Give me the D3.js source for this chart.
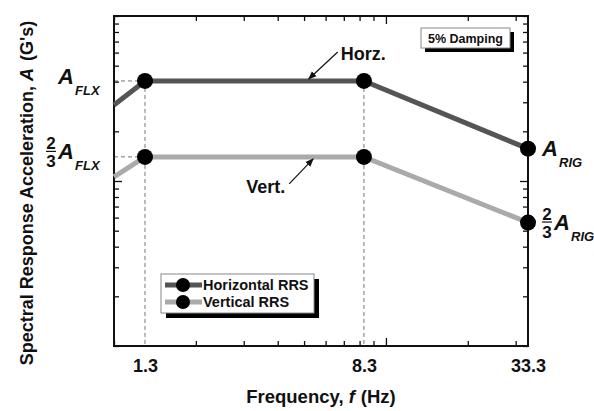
<!DOCTYPE html>
<html>
<head>
<meta charset="utf-8">
<script src="https://cdn.jsdelivr.net/npm/d3@7"></script>
<style>
  body { margin: 0; background: #fff; }
  text { font-family: "Liberation Sans", Arial, sans-serif; font-weight: bold; fill: #111; }
</style>
</head>
<body>
<div id="chart"></div>
<script>
// Data
const freq = [1, 1.3, 8.3, 33.3];
const horz = [28.9, 40.4, 40.4, 15.7];
const vert = [10.6, 14, 14, 5.6];
const xLabels = [1.3, 8.3, 33.3];
const seriesNames = ["Horizontal RRS", "Vertical RRS"];

const W = 594, H = 411;
const plot = { left: 114, right: 528, top: 16, bottom: 346 };

const x = d3.scaleLog().domain([1, 33.3]).range([plot.left, plot.right]);
const y = d3.scaleLog().domain([1, 100]).range([plot.bottom, plot.top]);

const svg = d3.select("#chart").append("svg")
  .attr("width", W).attr("height", H);

const defs = svg.append("defs");
defs.append("marker")
  .attr("id", "arrow")
  .attr("viewBox", "0 0 10 10")
  .attr("refX", 9).attr("refY", 5)
  .attr("markerWidth", 7).attr("markerHeight", 7)
  .attr("orient", "auto")
  .append("path").attr("d", "M0,1L10,5L0,9Z").attr("fill", "#111");

// Dashed guide lines
const guide = svg.append("g")
  .attr("stroke", "#777").attr("stroke-width", 1).attr("stroke-dasharray", "4,3");
[horz[1], vert[1]].forEach(v => {
  guide.append("line")
    .attr("x1", x(freq[0])).attr("x2", x(freq[1]))
    .attr("y1", y(v)).attr("y2", y(v));
});
[freq[1], freq[2]].forEach(f => {
  guide.append("line")
    .attr("x1", x(f)).attr("x2", x(f))
    .attr("y1", y(horz[1])).attr("y2", plot.bottom);
});

// Axes with inward ticks
function styleTicks(g) {
  g.select(".domain").remove();
  g.selectAll(".tick text").remove();
  g.selectAll(".tick line")
    .attr("stroke", "#111").attr("stroke-width", 1.3);
}
svg.append("g")
  .attr("transform", `translate(0,${plot.bottom})`)
  .call(d3.axisBottom(x).ticks(10).tickSize(-5))
  .call(styleTicks)
  .selectAll(".tick line").attr("y2", d => d === 10 ? -8 : -5);
svg.append("g")
  .attr("transform", `translate(0,${plot.top})`)
  .call(d3.axisTop(x).ticks(10).tickSize(-5))
  .call(styleTicks)
  .selectAll(".tick line").attr("y2", d => d === 10 ? 8 : 5);
svg.append("g")
  .attr("transform", `translate(${plot.left},0)`)
  .call(d3.axisLeft(y).ticks(10).tickSize(-5))
  .call(styleTicks)
  .selectAll(".tick line").attr("x2", d => d === 10 ? 8 : 5);
svg.append("g")
  .attr("transform", `translate(${plot.right},0)`)
  .call(d3.axisRight(y).ticks(10).tickSize(-5))
  .call(styleTicks)
  .selectAll(".tick line").attr("x2", d => d === 10 ? -8 : -5);

// Tick labels
svg.append("g")
  .attr("transform", `translate(0,${plot.bottom})`)
  .call(d3.axisBottom(x).tickValues(xLabels).tickSize(0).tickPadding(13).tickFormat(d3.format(".1f")))
  .call(g => g.select(".domain").remove())
  .selectAll(".tick text")
  .style("font-size", "18px").style("font-weight", "bold")
  .style("font-family", "'Liberation Sans', Arial, sans-serif").attr("fill", "#111");

// Frame
svg.append("rect")
  .attr("x", plot.left).attr("y", plot.top)
  .attr("width", plot.right - plot.left).attr("height", plot.bottom - plot.top)
  .attr("fill", "none").attr("stroke", "#111").attr("stroke-width", 2);

// Series lines and markers
const line = d3.line().x((d, i) => x(freq[i])).y(d => y(d));
const series = [
  { values: horz, color: "#555" },
  { values: vert, color: "#aaa" }
];
series.forEach(s => {
  svg.append("path")
    .datum(s.values)
    .attr("fill", "none")
    .attr("stroke", s.color)
    .attr("stroke-width", 5)
    .attr("d", line);
  svg.selectAll(null)
    .data(s.values.slice(1))
    .join("circle")
    .attr("cx", (d, i) => x(freq[i + 1]))
    .attr("cy", d => y(d))
    .attr("r", 8)
    .attr("fill", "#000");
});

// Horz. / Vert. callouts
const hx = x(5.2), hy = y(horz[1]) - 2;
svg.append("line")
  .attr("x1", hx + 29).attr("y1", hy - 27).attr("x2", hx).attr("y2", hy)
  .attr("stroke", "#111").attr("stroke-width", 1.2).attr("marker-end", "url(#arrow)");
svg.append("text").attr("x", hx + 32).attr("y", hy - 19)
  .style("font-size", "18px").text("Horz.");

const vx = x(5.4), vy = y(vert[1]) + 2;
svg.append("line")
  .attr("x1", vx - 24).attr("y1", vy + 25).attr("x2", vx).attr("y2", vy)
  .attr("stroke", "#111").attr("stroke-width", 1.2).attr("marker-end", "url(#arrow)");
svg.append("text").attr("x", vx - 67).attr("y", vy + 34)
  .style("font-size", "18px").text("Vert.");

// Level labels (A, 2/3 A)
function levelLabel(px, py, sub, frac) {
  const g = svg.append("g").attr("transform", `translate(${px},${py})`);
  let ax = 0;
  if (frac) {
    g.append("text").attr("x", 5).attr("y", -9).attr("text-anchor", "middle")
      .style("font-size", "17px").text("2");
    g.append("line").attr("x1", 0).attr("x2", 10).attr("y1", -6.5).attr("y2", -6.5)
      .attr("stroke", "#111").attr("stroke-width", 1.2);
    g.append("text").attr("x", 5).attr("y", 9).attr("text-anchor", "middle")
      .style("font-size", "17px").text("3");
    ax = 12;
  }
  g.append("text").attr("x", ax).attr("y", 1)
    .style("font-size", "22px").style("font-style", "italic").text("A");
  g.append("text").attr("x", ax + 17).attr("y", 12)
    .style("font-size", "13px").style("font-style", "italic").text(sub);
}
levelLabel(plot.left - 56, y(horz[1]) + 2, "FLX", false);
levelLabel(plot.left - 68, y(vert[1]) + 1, "FLX", true);
levelLabel(plot.right + 14, y(horz[3]) + 6, "RIG", false);
levelLabel(plot.right + 14, y(vert[3]) + 6, "RIG", true);

// 5% Damping box
const db = { x: 421, y: 28, w: 89, h: 20 };
svg.append("rect").attr("x", db.x + 4).attr("y", db.y + 4).attr("width", db.w).attr("height", db.h).attr("fill", "#000");
svg.append("rect").attr("x", db.x).attr("y", db.y).attr("width", db.w).attr("height", db.h)
  .attr("fill", "#fff").attr("stroke", "#888").attr("stroke-width", 1);
svg.append("text").attr("x", db.x + db.w / 2).attr("y", db.y + 14.5).attr("text-anchor", "middle")
  .style("font-size", "12.5px").text("5% Damping");

// Legend
const lg = { x: 161, y: 274, w: 153, h: 39 };
svg.append("rect").attr("x", lg.x + 5).attr("y", lg.y + 5).attr("width", lg.w).attr("height", lg.h).attr("fill", "#000");
svg.append("rect").attr("x", lg.x).attr("y", lg.y).attr("width", lg.w).attr("height", lg.h)
  .attr("fill", "#fff").attr("stroke", "#888").attr("stroke-width", 1);
seriesNames.forEach((name, i) => {
  const ly = lg.y + 11 + i * 17;
  svg.append("line").attr("x1", lg.x + 4).attr("x2", lg.x + 41).attr("y1", ly).attr("y2", ly)
    .attr("stroke", series[i].color).attr("stroke-width", 5);
  svg.append("circle").attr("cx", lg.x + 22).attr("cy", ly).attr("r", 7).attr("fill", "#000");
  svg.append("text").attr("x", lg.x + 42).attr("y", ly + 5)
    .style("font-size", "14.5px").text(name);
});

// Axis titles
const xt = svg.append("text").attr("x", (plot.left + plot.right) / 2).attr("y", 403)
  .attr("text-anchor", "middle").style("font-size", "18.5px");
xt.append("tspan").text("Frequency, ");
xt.append("tspan").style("font-style", "italic").text("f");
xt.append("tspan").attr("dx", 6).text("(Hz)");

const yt = svg.append("text")
  .attr("transform", `translate(33,193) rotate(-90)`)
  .attr("text-anchor", "middle").style("font-size", "18px");
yt.append("tspan").text("Spectral Response Acceleration, ");
yt.append("tspan").style("font-style", "italic").text("A");
yt.append("tspan").attr("dx", 7).text("(G's)");
</script>
</body>
</html>
